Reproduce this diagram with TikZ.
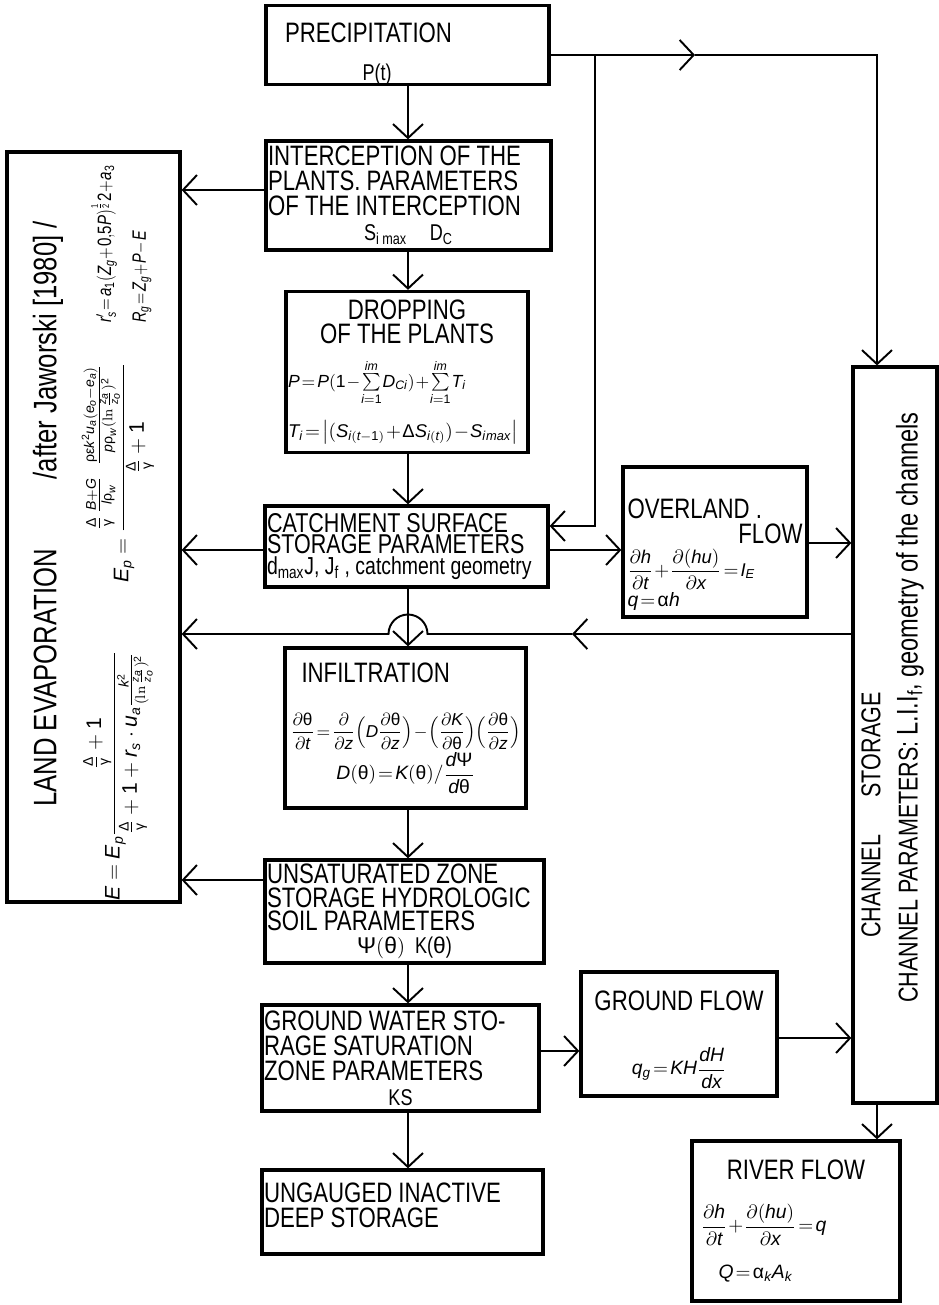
\documentclass[tikz,border=0pt]{standalone}
\usepackage{amsmath}
\usepackage{mathspec}
\setmainfont{Liberation Sans}[FakeStretch=0.79]
\setmathsfont(Digits,Latin){Liberation Sans}
\setmathsfont(Greek)[Uppercase=Regular,Lowercase=Regular]{Liberation Sans}
\usetikzlibrary{arrows.meta}

\newcommand\tight{\thickmuskip=2mu\medmuskip=1mu\thinmuskip=1mu}
\newcommand\hdf{\fontsize{16}{14.2}\selectfont}
\newcommand\smf{\fontsize{13}{13}\selectfont}
\newcommand\fmf{\fontsize{11}{13}\selectfont\tight}
\newcommand\cln[1]{\hfill#1\hfill\null}
\newcommand\rln[1]{\hfill#1}

\begin{document}
\begin{tikzpicture}[x=0.02cm, y=-0.02cm,
    blk/.style={draw=black, line width=1.9pt, inner xsep=0.02cm, inner ysep=0pt, align=flush left, font=\hdf},
    rot/.style={rotate=90, inner sep=0pt},
    ln/.style={line width=1.1pt},
    arr/.style={ln, -{Straight Barb[length=2.8mm, width=6mm]}}
  ]
  \useasboundingbox (0,0) rectangle (939,1305);

  % Main column
  \node[blk, minimum width=5.66cm, minimum height=1.56cm, text width=5.3cm] (precip) at (407.5,45)
    {\hspace*{0.2cm}\rule{0pt}{0.75cm}PRECIPITATION\\[7pt]\hspace*{1.75cm}{\smf P(t)}};
  \node[blk, minimum width=5.7cm, minimum height=2.18cm, text width=5.62cm] (intercept) at (408.5,195.5)
    {INTERCEPTION OF THE\\PLANTS. PARAMETERS\\OF THE INTERCEPTION\\\cln{\smf S\textsubscript{i max}\quad D\textsubscript{C}}};
  \node[blk, minimum width=4.84cm, minimum height=3.22cm, text width=4.76cm] (drop) at (407,372)
    {\cln{DROPPING}\\[-0.5pt]\cln{OF THE PLANTS}\\[8pt]
     \mbox{\fmf\fontsize{10}{12}\selectfont $P=P(1-\sum\limits_{i=1}^{im}D_{Ci})+\sum\limits_{i=1}^{im}T_i$}\\[8pt]
     \mbox{\fmf\fontsize{10.5}{13}\selectfont $T_i=\bigl|(S_{i(t-1)}+\Delta S_{i(t)})-S_{i\,max}\bigr|$}};
  \node[blk, minimum width=5.66cm, minimum height=1.62cm, text width=5.58cm, font=\fontsize{15.5}{12.2}\selectfont] (catch) at (406.5,546.5)
    {CATCHMENT SURFACE\\STORAGE PARAMETERS\\{\fontsize{14}{12}\selectfont d\textsubscript{max}J, J\textsubscript{f} , catchment geometry}};
  \node[blk, minimum width=4.82cm, minimum height=3.2cm, text width=4.6cm] (infil) at (405.5,728)
    {\hspace*{0.22cm}INFILTRATION\\[0.6cm]
     \mbox{\fmf\fontsize{9.8}{13}\selectfont $\dfrac{\partial\theta}{\partial t}=\dfrac{\partial}{\partial z}\Bigl(D\dfrac{\partial\theta}{\partial z}\Bigr)-\Bigl(\dfrac{\partial K}{\partial\theta}\Bigr)\Bigl(\dfrac{\partial\theta}{\partial z}\Bigr)$}\\[1pt]
     \cln{\fmf $D(\theta)=K(\theta)/\dfrac{d\Psi}{d\theta}$}};
  \node[blk, minimum width=5.58cm, minimum height=2.06cm, text width=5.5cm, font=\fontsize{16}{13.3}\selectfont] (unsat) at (404.5,911.5)
    {UNSATURATED ZONE\\STORAGE HYDROLOGIC\\SOIL PARAMETERS\\\cln{\smf $\Psi(\theta)$\ \ K($\theta$)}};
  \node[blk, minimum width=5.54cm, minimum height=2.12cm, text width=5.46cm] (gwater) at (400.5,1058)
    {GROUND WATER STO-\\RAGE SATURATION\\ZONE PARAMETERS\\\cln{\smf KS}};
  \node[blk, minimum width=5.62cm, minimum height=1.68cm, text width=5.54cm] (deep) at (402.5,1212)
    {UNGAUGED INACTIVE\\DEEP STORAGE\rule[-0.26cm]{0pt}{0.26cm}};

  % Flow boxes on the right
  \node[blk, minimum width=3.68cm, minimum height=3cm, text width=3.5cm] (over) at (715,542)
    {\rule{0pt}{0.9cm}OVERLAND .\\\rln{FLOW}\\[2pt]
     \mbox{\fmf\fontsize{10.5}{13}\selectfont $\dfrac{\partial h}{\partial t}+\dfrac{\partial(hu)}{\partial x}=I_E$}\\[1pt]{\fmf $q=\alpha h$}};
  \node[blk, minimum width=3.92cm, minimum height=2.48cm, text width=3.8cm] (gflow) at (679,1034)
    {\cln{\rule{0pt}{0.62cm}GROUND FLOW}\\[0.7cm]\cln{\fmf $q_g=KH\dfrac{dH}{dx}$}};
  \node[blk, minimum width=4.16cm, minimum height=3.2cm, text width=4cm] (river) at (796,1221)
    {\cln{RIVER FLOW}\\[0.45cm]\hspace*{0.1cm}\mbox{\fmf $\dfrac{\partial h}{\partial t}+\dfrac{\partial(hu)}{\partial x}=q$}\\[10pt]
     \hspace*{0.45cm}{\fmf $Q=\alpha_kA_k$}};
  \node[blk, minimum width=1.68cm, minimum height=14.72cm] (chan) at (895,735) {};
  \node[rot, anchor=west, font=\fontsize{15.5}{14}\selectfont] (chttl) at (871,938) {CHANNEL\hspace{0.75cm}STORAGE};
  \node[rot, anchor=west, font=\fontsize{15.5}{14}\selectfont] (chpar) at (910,1003)
    {CHANNEL PARAMETERS:\ {\fontsize{17}{14}\selectfont L.I.I\textsubscript{f}, geometry of the channels}};

  % Land evaporation box on the left
  \node[blk, minimum width=3.46cm, minimum height=15cm] (evap) at (93.5,527) {};
  \node[rot, anchor=west, font=\fontsize{18.5}{17}\selectfont] (evttl) at (48,807)
    {LAND EVAPORATION\hspace{1.4cm}/after Jaworski [1980] /};
  \node[rot, anchor=west, font=\fontsize{11}{12}\selectfont\tight] (rsf) at (104,323)
    {\scalebox{0.78}[1]{$r_s'=a_1(Z_g+0{,}5P)^{\frac{1}{2}}2+a_3$}};
  \node[rot, anchor=west, font=\fontsize{11}{12}\selectfont\tight] (rgf) at (142,323)
    {\scalebox{0.75}[1]{$R_g=Z_g+P-E$}};
  \node[rot, font=\fontsize{12}{14}\selectfont] (epf) at (118,473)
    {$E_p=\dfrac{\frac{\Delta}{\gamma}\,\frac{B+G}{l\rho_w}\;\;\frac{\rho\epsilon k^2u_a(e_o-e_a)}{p\rho_w(\ln\frac{z_a}{z_o})^2}}{\frac{\Delta}{\gamma}+1}$};
  \node[rot, font=\fontsize{12}{14}\selectfont] (ef) at (118,776)
    {$E=E_p\dfrac{\frac{\Delta}{\gamma}+1}{\frac{\Delta}{\gamma}+1+r_s\cdot u_a\frac{k^2}{(\ln\frac{z_a}{z_o})^2}}$};

  % Levels and break points of the connectors
  \coordinate (spine) at (408,0);
  \coordinate (xCh) at (877,0);
  \coordinate (xBr) at (595,0);
  \coordinate (yTop) at (0,55);
  \coordinate (yInt) at (0,190);
  \coordinate (yCin) at (0,526);
  \coordinate (yOver) at (0,543);
  \coordinate (yCat) at (0,550);
  \coordinate (yRet) at (0,634);
  \coordinate (yUns) at (0,880);
  \coordinate (yGf) at (0,1038);
  \coordinate (yGw) at (0,1051);
  \coordinate (topmid) at (695,55);
  \coordinate (retmid) at (572,634);
  \coordinate (hopR) at (427.5,634);

  % Vertical chain
  \draw[arr] (precip.south -| spine) -- (intercept.north -| spine);
  \draw[arr] (intercept.south -| spine) -- (drop.north -| spine);
  \draw[arr] (drop.south -| spine) -- (catch.north -| spine);
  \draw[arr] (catch.south -| spine) -- (infil.north -| spine);
  \draw[arr] (infil.south -| spine) -- (unsat.north -| spine);
  \draw[arr] (unsat.south -| spine) -- (gwater.north -| spine);
  \draw[arr] (gwater.south -| spine) -- (deep.north -| spine);

  % Precipitation to the channel and to the surface
  \draw[arr] (precip.east |- yTop) -- (topmid);
  \draw[arr] (topmid) -- (xCh |- yTop) -- (chan.north -| xCh);
  \draw[arr] (xBr |- yTop) -- (xBr |- yCin) -- (catch.east |- yCin);

  % Losses to evaporation
  \draw[arr] (intercept.west |- yInt) -- (evap.east |- yInt);
  \draw[arr] (catch.west |- yCat) -- (evap.east |- yCat);
  \draw[arr] (unsat.west |- yUns) -- (evap.east |- yUns);
  \draw[arr] (chan.west |- yRet) -- (retmid);
  \draw[arr] (retmid) -- (hopR) arc[start angle=0, end angle=180, radius=0.39cm] -- (evap.east |- yRet);

  % Lateral flows
  \draw[arr] (catch.east |- yCat) -- (over.west |- yCat);
  \draw[arr] (over.east |- yOver) -- (chan.west |- yOver);
  \draw[arr] (gwater.east |- yGw) -- (gflow.west |- yGw);
  \draw[arr] (gflow.east |- yGf) -- (chan.west |- yGf);
  \draw[arr] (chan.south -| xCh) -- (river.north -| xCh);
\end{tikzpicture}
\end{document}
